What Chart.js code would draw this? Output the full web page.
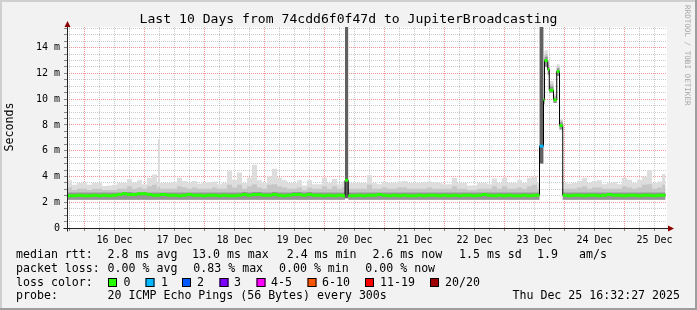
<!DOCTYPE html>
<html>
<head>
<meta charset="utf-8">
<script src="https://cdn.jsdelivr.net/npm/chart.js@4.4.1/dist/chart.umd.min.js"></script>
<style>
  html, body { margin: 0; padding: 0; background: #f2f2f2; }
  canvas { display: block; }
</style>
</head>
<body>
<canvas id="chart" width="697" height="310"></canvas>
<script>
// hours since 15 Dec 00:00, each value holds until the next time
var times = [
  17, 19, 21, 23, 25, 27, 29, 31, 33, 35, 37, 39, 41, 43, 45, 47, 49, 51,
  53, 53.4, 54.2,
  55, 57, 59, 61, 63, 65, 67, 69, 71, 73, 75, 77, 79, 81, 83, 85, 87, 89, 91,
  93, 95, 97, 99, 101, 103, 105, 107, 109, 111, 113, 115, 117, 119, 121, 123, 125, 127,
  128.2, 129.5,
  131, 133, 135, 137, 139, 141, 143, 145, 147, 149, 151, 153, 155, 157, 159, 161, 163, 165, 167,
  169, 171, 173, 175, 177, 179, 181, 183, 185, 187, 189, 191, 193, 195, 197, 199, 201, 203, 205,
  206, 207.6, 208, 209.3, 209.9, 211.6, 212.9, 214, 215.3,
  217, 219, 221, 223, 225, 227, 229, 231, 233, 235, 237, 239, 241, 243, 245, 247, 249, 251, 253, 255,
  256.4
];

// median rtt in ms
var medianRtt = [
  2.5, 2.5, 2.55, 2.5, 2.5, 2.55, 2.5, 2.55, 2.5, 2.55, 2.6, 2.65, 2.6, 2.6, 2.65, 2.65, 2.6, 2.55,
  2.55, 2.55, 2.6,
  2.6, 2.55, 2.55, 2.5, 2.55, 2.6, 2.55, 2.55, 2.5, 2.55, 2.55, 2.5, 2.55, 2.5, 2.5, 2.55, 2.6, 2.55, 2.6,
  2.6, 2.55, 2.55, 2.6, 2.55, 2.5, 2.55, 2.6, 2.6, 2.55, 2.6, 2.55, 2.55, 2.5, 2.55, 2.5, 2.55, 2.5,
  3.7, 2.5,
  2.5, 2.55, 2.5, 2.55, 2.55, 2.6, 2.55, 2.5, 2.55, 2.5, 2.55, 2.5, 2.5, 2.55, 2.5, 2.55, 2.55, 2.5, 2.55,
  2.5, 2.55, 2.5, 2.55, 2.55, 2.5, 2.55, 2.6, 2.55, 2.5, 2.55, 2.5, 2.55, 2.5, 2.5, 2.55, 2.5, 2.55, 2.55,
  6.35, 9.95, 13.0, 12.3, 10.7, 9.95, 12.15, 7.95, 2.55,
  2.5, 2.55, 2.55, 2.5, 2.55, 2.55, 2.5, 2.55, 2.6, 2.55, 2.55, 2.5, 2.55, 2.55, 2.5, 2.55, 2.55, 2.5, 2.55, 2.55,
  2.55
];

// lost pings per step (out of 20)
var lossCount = [
  0, 0, 0, 0, 0, 0, 0, 0, 0, 0, 0, 0, 0, 0, 0, 0, 0, 0,
  0, 0, 0,
  0, 0, 0, 0, 0, 0, 0, 0, 0, 0, 0, 0, 0, 0, 0, 0, 0, 0, 0,
  0, 0, 0, 0, 0, 0, 0, 0, 0, 0, 0, 0, 0, 0, 0, 0, 0, 0,
  0, 0,
  0, 0, 0, 0, 0, 0, 0, 0, 0, 0, 0, 0, 0, 0, 0, 0, 0, 0, 0,
  0, 0, 0, 0, 0, 0, 0, 0, 0, 0, 0, 0, 0, 0, 0, 0, 0, 0, 0,
  1, 0, 0, 0, 0, 0, 0, 0, 0,
  0, 0, 0, 0, 0, 0, 0, 0, 0, 0, 0, 0, 0, 0, 0, 0, 0, 0, 0, 0,
  0
];

// smoke: bottom of all pings
var smokeLow = [
  2.2, 2.2, 2.2, 2.2, 2.2, 2.2, 2.2, 2.2, 2.2, 2.2, 2.2, 2.2, 2.2, 2.2, 2.2, 2.2, 2.2, 2.2,
  2.2, 2.2, 2.2,
  2.2, 2.2, 2.2, 2.2, 2.2, 2.2, 2.2, 2.2, 2.2, 2.2, 2.2, 2.2, 2.2, 2.2, 2.2, 2.2, 2.2, 2.2, 2.2,
  2.2, 2.2, 2.2, 2.2, 2.2, 2.2, 2.2, 2.2, 2.2, 2.2, 2.2, 2.2, 2.2, 2.2, 2.2, 2.2, 2.2, 2.2,
  2.3, 2.2,
  2.2, 2.2, 2.2, 2.2, 2.2, 2.2, 2.2, 2.2, 2.2, 2.2, 2.2, 2.2, 2.2, 2.2, 2.2, 2.2, 2.2, 2.2, 2.2,
  2.2, 2.2, 2.2, 2.2, 2.2, 2.2, 2.2, 2.2, 2.2, 2.2, 2.2, 2.2, 2.2, 2.2, 2.2, 2.2, 2.2, 2.2, 2.2,
  5.0, 9.6, 12.5, 11.9, 10.5, 9.7, 11.8, 7.65, 2.2,
  2.2, 2.2, 2.2, 2.2, 2.2, 2.2, 2.2, 2.2, 2.2, 2.2, 2.2, 2.2, 2.2, 2.2, 2.2, 2.2, 2.2, 2.2, 2.2, 2.2,
  2.2
];

// smoke: top of the dense core
var smokeInner = [
  2.75, 2.75, 2.75, 2.75, 2.75, 2.75, 2.75, 2.75, 2.75, 2.75, 2.75, 2.8, 2.8, 2.75, 2.8, 2.8, 2.75, 2.75,
  2.75, 2.75, 2.75,
  2.75, 2.75, 2.75, 2.75, 2.75, 2.75, 2.75, 2.75, 2.75, 2.75, 2.75, 2.75, 2.75, 2.75, 2.75, 2.75, 2.8, 2.75, 2.8,
  2.8, 2.75, 2.75, 2.8, 2.75, 2.75, 2.75, 2.8, 2.8, 2.75, 2.8, 2.75, 2.75, 2.75, 2.75, 2.75, 2.75, 2.75,
  16, 2.75,
  2.75, 2.75, 2.75, 2.75, 2.75, 2.75, 2.75, 2.75, 2.75, 2.75, 2.75, 2.75, 2.75, 2.75, 2.75, 2.75, 2.75, 2.75, 2.75,
  2.75, 2.75, 2.75, 2.75, 2.75, 2.75, 2.75, 2.75, 2.75, 2.75, 2.75, 2.75, 2.75, 2.75, 2.75, 2.75, 2.75, 2.75, 2.75,
  16, 10.1, 13.3, 12.5, 11.0, 10.1, 12.4, 8.2, 2.75,
  2.75, 2.75, 2.75, 2.75, 2.75, 2.75, 2.75, 2.75, 2.75, 2.75, 2.75, 2.75, 2.75, 2.75, 2.75, 2.75, 2.75, 2.75, 2.75, 2.75,
  2.75
];

// smoke: top of the middle pings
var smokeUpper = [
  3.15, 2.95, 3.05, 3.05, 2.95, 3.05, 3.05, 2.95, 2.95, 2.95, 3.05, 3.05, 3.25, 3.05, 3.15, 3.05, 3.25, 3.35,
  3.05, 3.2, 3.05,
  3.05, 3.05, 3.05, 3.25, 3.15, 3.05, 3.15, 3.05, 3.05, 3.05, 3.15, 3.05, 3.05, 3.35, 3.15, 3.35, 3.05, 3.25, 3.4,
  3.15, 3.05, 3.35, 3.4, 3.25, 3.15, 3.05, 3.05, 3.15, 2.95, 3.15, 3.05, 3.05, 3.25, 3.05, 3.25, 3.05, 3.15,
  16, 3.05,
  3.05, 3.05, 3.05, 3.35, 3.05, 3.05, 3.15, 3.05, 3.05, 3.15, 3.15, 3.05, 3.05, 3.05, 3.05, 3.15, 3.05, 3.05, 3.05,
  3.05, 3.25, 3.05, 3.05, 2.95, 2.95, 3.05, 3.05, 3.05, 3.25, 3.05, 3.25, 3.05, 3.05, 3.15, 3.05, 3.25, 3.35, 3.05,
  16, 10.3, 13.5, 12.7, 11.2, 10.25, 12.55, 8.35, 3.05,
  3.05, 3.05, 3.15, 3.25, 3.05, 3.15, 3.15, 3.05, 3.05, 3.05, 3.05, 3.25, 3.15, 3.05, 3.15, 3.35, 3.4, 3.05, 3.15, 3.35,
  3.35
];

// smoke: slowest ping
var smokeMax = [
  3.7, 3.35, 3.5, 3.5, 3.35, 3.5, 3.5, 3.26, 3.3, 3.35, 3.5, 3.5, 3.8, 3.55, 3.7, 3.4, 3.9, 4.15,
  3.5, 6.9, 3.5,
  3.5, 3.5, 3.55, 3.9, 3.65, 3.5, 3.65, 3.45, 3.5, 3.55, 3.6, 3.4, 3.5, 4.4, 3.75, 4.3, 3.5, 3.9, 4.9,
  3.7, 3.5, 4.0, 4.6, 3.9, 3.7, 3.5, 3.5, 3.7, 3.3, 3.7, 3.4, 3.4, 3.9, 3.5, 3.8, 3.4, 3.6,
  16, 3.5,
  3.5, 3.5, 3.5, 4.1, 3.5, 3.4, 3.6, 3.5, 3.5, 3.6, 3.65, 3.5, 3.5, 3.5, 3.55, 3.6, 3.55, 3.5, 3.4,
  3.4, 3.9, 3.5, 3.5, 3.3, 3.3, 3.5, 3.5, 3.4, 3.85, 3.5, 3.9, 3.5, 3.5, 3.7, 3.5, 3.9, 4.0, 3.5,
  16, 10.5, 13.8, 12.9, 11.4, 10.4, 12.7, 8.45, 3.5,
  3.45, 3.5, 3.65, 3.9, 3.5, 3.65, 3.7, 3.4, 3.5, 3.55, 3.4, 3.9, 3.75, 3.5, 3.75, 4.0, 4.5, 3.5, 3.6, 4.2,
  4.2
];

var dayLabels = ["16 Dec", "17 Dec", "18 Dec", "19 Dec", "20 Dec", "21 Dec", "22 Dec", "23 Dec", "24 Dec", "25 Dec"];
var yTickLabels = ["0", "2 m", "4 m", "6 m", "8 m", "10 m", "12 m", "14 m"];

var lossLabels = ["0", "1", "2", "3", "4-5", "6-10", "11-19", "20/20"];
var lossColors = ["#26ff00", "#00b8ff", "#0059ff", "#7e00ff", "#ff00ff", "#ff5500", "#ff0000", "#a10000"];

var rttStats = ["2.8 ms avg", "13.0 ms max", "2.4 ms min", "2.6 ms now", "1.5 ms sd", "1.9", "am/s"];
var lossStats = ["0.00 % avg", "0.83 % max", "0.00 % min", "0.00 % now"];
var probeText = "20 ICMP Echo Pings (56 Bytes) every 300s";
var stampText = "Thu Dec 25 16:32:27 2025";
var titleText = "Last 10 Days from 74cdd6f0f47d to JupiterBroadcasting";

var MONO = '"DejaVu Sans Mono", monospace';
var MINOR = "rgba(150,150,150,0.5)";
var MAJOR = "rgba(230,80,80,0.6)";

function pts(arr) {
  return times.map(function (t, i) { return {x: t, y: arr[i]}; });
}

// short horizontal median marks, one per step, for a given loss count
function lossMarks(loss) {
  var out = [];
  for (var i = 0; i < times.length - 1; i++) {
    if (lossCount[i] !== loss) continue;
    out.push({x: times[i], y: medianRtt[i]}, {x: times[i + 1], y: medianRtt[i]}, {x: times[i + 1], y: null});
  }
  return out;
}

var frame = {
  id: "frame",
  beforeDraw: function (chart) {
    var c = chart.ctx, a = chart.chartArea;
    c.save();
    c.fillStyle = "#f2f2f2";
    c.fillRect(0, 0, chart.width, chart.height);
    c.fillStyle = "#ffffff";
    c.fillRect(a.left, a.top, a.right - a.left, a.bottom - a.top);
    c.restore();
  },
  afterDatasetsDraw: function (chart) {
    var c = chart.ctx, a = chart.chartArea;
    var x0 = a.left + 0.5, y0 = a.bottom + 0.5;
    c.save();
    c.strokeStyle = "#202020";
    c.lineWidth = 1;
    c.beginPath();
    c.moveTo(x0, y0 + 3); c.lineTo(x0, a.top - 1);
    c.moveTo(x0 - 4, y0); c.lineTo(a.right + 2, y0);
    c.stroke();
    c.fillStyle = "#8b0000";
    c.beginPath();
    c.moveTo(x0 - 3, a.top); c.lineTo(x0 + 3, a.top); c.lineTo(x0, a.top - 6); c.closePath();
    c.fill();
    c.beginPath();
    c.moveTo(a.right + 1, y0 - 3); c.lineTo(a.right + 1, y0 + 3); c.lineTo(a.right + 7, y0); c.closePath();
    c.fill();
    c.restore();
  },
  afterDraw: function (chart) {
    var c = chart.ctx, W = chart.width, H = chart.height;
    c.save();
    // 3d border
    c.fillStyle = "#cfcfcf";
    c.fillRect(0, 0, W, 2);
    c.fillRect(0, 0, 2, H);
    c.fillStyle = "#9e9e9e";
    c.fillRect(W - 2, 0, 2, H);
    c.fillRect(0, H - 2, W, 2);

    c.fillStyle = "#000";
    c.textBaseline = "middle";
    c.textAlign = "center";
    c.font = "13.1px " + MONO;
    c.fillText(titleText, 348.5, 19.5);

    c.save();
    c.font = "11.6px " + MONO;
    c.translate(10, 127);
    c.rotate(-Math.PI / 2);
    c.fillText("Seconds", 0, 0);
    c.restore();

    c.save();
    c.fillStyle = "#a8a8a8";
    c.font = "7.6px " + MONO;
    c.textAlign = "left";
    c.translate(687, 5);
    c.rotate(Math.PI / 2);
    c.fillText("RRDTOOL / TOBI OETIKER", 0, 0);
    c.restore();

    // legend rows
    c.font = "11.6px " + MONO;
    c.textAlign = "left";
    var rttX = [107.6, 192, 286.7, 372.4, 459, 537, 579];
    c.fillText("median rtt:", 16, 255);
    rttStats.forEach(function (s, i) { c.fillText(s, rttX[i], 255); });
    var lossX = [107.6, 193.3, 279, 365.3];
    c.fillText("packet loss:", 16, 268.5);
    lossStats.forEach(function (s, i) { c.fillText(s, lossX[i], 268.5); });
    c.fillText("loss color:", 16, 282.5);
    var boxX = [108, 145.5, 182, 219.5, 256.5, 307.5, 365, 430];
    var labX = [123.6, 161, 197, 234, 271, 322, 380, 445];
    lossLabels.forEach(function (s, i) {
      c.fillStyle = lossColors[i];
      c.fillRect(boxX[i], 278, 9, 9);
      c.strokeStyle = "#000";
      c.lineWidth = 1;
      c.strokeRect(boxX[i] + 0.5, 278.5, 8, 8);
      c.fillStyle = "#000";
      c.fillText(s, labX[i], 282.5);
    });
    c.fillText("probe:", 16, 296);
    c.fillText(probeText, 107.6, 296);
    c.textAlign = "right";
    c.fillText(stampText, 680, 296);
    c.restore();
  }
};

var band = {borderWidth: 0, borderColor: "transparent", pointRadius: 0, pointHoverRadius: 0, stepped: true};

var ctx = document.getElementById("chart").getContext("2d");
var chart = new Chart(ctx, {
  type: "line",
  data: {
    datasets: [
      Object.assign({data: pts(smokeLow), fill: false, order: 9}, band),
      Object.assign({data: pts(smokeMax), fill: "-1", backgroundColor: "#dddddd", order: 8}, band),
      Object.assign({data: pts(smokeUpper), fill: "-2", backgroundColor: "#c6c6c6", order: 7}, band),
      Object.assign({data: pts(smokeInner), fill: "-3", backgroundColor: "#959595", order: 6,
        // the outage columns are much denser, so darker
        segment: {backgroundColor: function (s) { return smokeInner[s.p0DataIndex] > 15 ? "#616161" : undefined; }}
      }, band),
      {data: pts(medianRtt), borderColor: "#000", borderWidth: 1, pointRadius: 0, stepped: true, fill: false, order: 5},
      {data: lossMarks(0), borderColor: lossColors[0], borderWidth: 3, borderCapStyle: "butt",
       pointRadius: 0, fill: false, spanGaps: false, order: 4},
      {data: lossMarks(1), borderColor: lossColors[1], borderWidth: 3, borderCapStyle: "butt",
       pointRadius: 0, fill: false, spanGaps: false, order: 3}
    ]
  },
  options: {
    responsive: false,
    devicePixelRatio: 1,
    animation: false,
    events: [],
    layout: {padding: {top: 27, right: 30, bottom: 0, left: 0}},
    plugins: {legend: {display: false}, tooltip: {enabled: false}, title: {display: false}},
    scales: {
      x: {
        type: "linear",
        min: 17,
        max: 257,
        afterBuildTicks: function (s) {
          var t = [];
          for (var h = 18; h <= 252; h += 6) t.push({value: h});
          s.ticks = t;
        },
        afterFit: function (s) { s.height = 82; },
        grid: {
          color: function (c) { return c.tick && c.tick.value % 24 === 0 ? MAJOR : MINOR; },
          tickColor: "#888",
          tickLength: 3
        },
        border: {display: false, dash: [1, 1]},
        ticks: {
          autoSkip: false,
          maxRotation: 0,
          padding: 3,
          color: "#000",
          font: {family: "DejaVu Sans Mono", size: 10},
          callback: function (v) {
            var k = (v - 36) / 24;
            return (k === Math.round(k) && dayLabels[k]) || "";
          }
        }
      },
      y: {
        min: 0,
        max: 15.6,
        afterBuildTicks: function (s) {
          var t = [];
          for (var v = 0; v <= 15.5; v += 0.5) t.push({value: v});
          s.ticks = t;
        },
        afterFit: function (s) { s.width = 67; },
        grid: {
          color: function (c) { return c.tick && c.tick.value % 2 === 0 ? MAJOR : MINOR; },
          tickColor: "#888",
          tickLength: 3
        },
        border: {display: false, dash: [1, 1]},
        ticks: {
          autoSkip: false,
          padding: 4,
          color: "#000",
          font: {family: "DejaVu Sans Mono", size: 10},
          callback: function (v) { return v % 2 === 0 ? yTickLabels[v / 2] : ""; }
        }
      }
    }
  },
  plugins: [frame]
});
</script>
</body>
</html>
